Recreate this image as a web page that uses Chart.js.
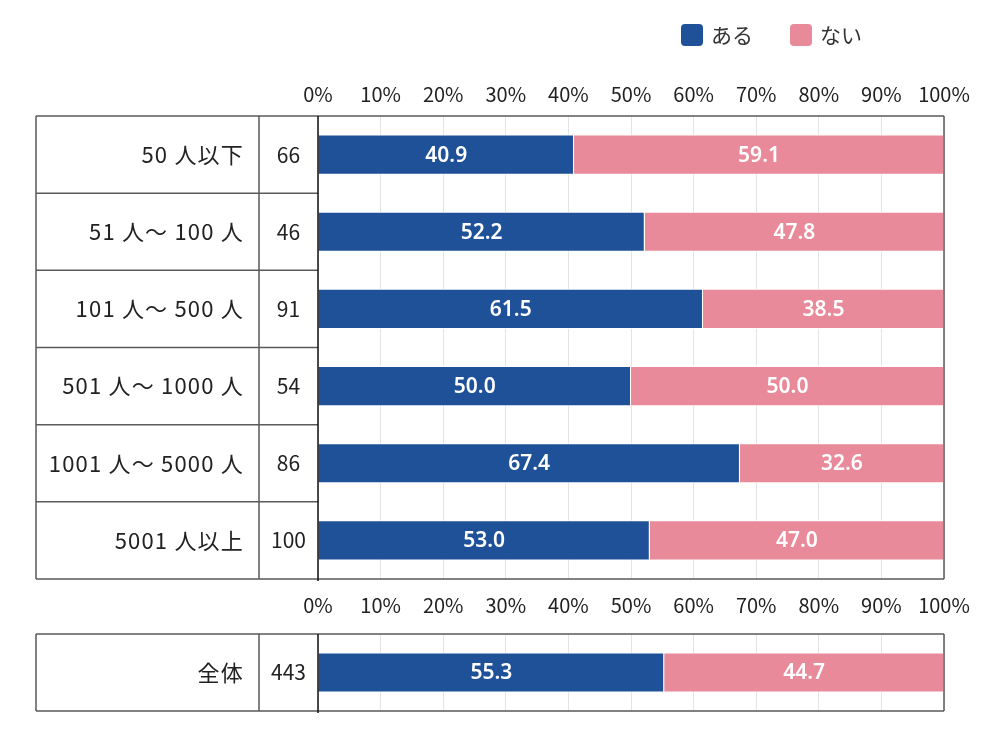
<!DOCTYPE html>
<html lang="ja">
<head>
<meta charset="utf-8">
<title>ある / ない</title>
<script src="https://cdn.jsdelivr.net/npm/chart.js@4.4.1/dist/chart.umd.min.js"></script>
<style>
  html, body { margin: 0; padding: 0; background: #fff; }
  #wrap { position: relative; width: 1000px; height: 744px; overflow: hidden; }
  canvas { position: absolute; left: 0; }
  #mainChart { top: 0; width: 1000px; height: 625px; }
  #totalChart { top: 600px; width: 1000px; height: 144px; }
</style>
</head>
<body>
<div id="wrap">
  <canvas id="mainChart" width="1000" height="625"></canvas>
  <canvas id="totalChart" width="1000" height="144"></canvas>
</div>
<script>
// --- data ---
const seriesNames = ['ある', 'ない'];
const categories = ['50 人以下', '51 人～ 100 人', '101 人～ 500 人', '501 人～ 1000 人', '1001 人～ 5000 人', '5001 人以上'];
const counts = [66, 46, 91, 54, 86, 100];
const aruValues = [40.9, 52.2, 61.5, 50.0, 67.4, 53.0];
const naiValues = [59.1, 47.8, 38.5, 50.0, 32.6, 47.0];

const totalCategories = ['全体'];
const totalCounts = [443];
const totalAru = [55.3];
const totalNai = [44.7];

const tickMin = 0, tickMax = 100, tickStep = 10;

// --- styles ---
const BLUE = '#1f5199';
const PINK = '#e98a9a';
const LINE = '#5a5a5a';
const GRID = '#e4e4e4';
const TEXT = '#222';
const JP = '"Noto Sans CJK JP", "Noto Sans", sans-serif';
const TABLE_LEFT = 36;
const TABLE_DIVIDER = 259;

Chart.defaults.font.family = JP;
Chart.defaults.color = TEXT;

// draws the label / n table on the left and the frame around the plot
function makeTablePlugin(labels, nums) {
    return {
        id: 'sideTable',
        afterDraw(chart) {
            const { ctx, chartArea } = chart;
            const rowH = chartArea.height / labels.length;
            ctx.save();
            ctx.strokeStyle = LINE;
            ctx.lineWidth = 1.5;
            ctx.beginPath();
            for (let i = 0; i <= labels.length; i++) {
                const yy = chartArea.top + i * rowH;
                const x2 = (i === 0 || i === labels.length) ? chartArea.right : chartArea.left;
                ctx.moveTo(TABLE_LEFT, yy);
                ctx.lineTo(x2, yy);
            }
            ctx.moveTo(TABLE_LEFT, chartArea.top);
            ctx.lineTo(TABLE_LEFT, chartArea.bottom);
            ctx.moveTo(TABLE_DIVIDER, chartArea.top);
            ctx.lineTo(TABLE_DIVIDER, chartArea.bottom);
            ctx.moveTo(chartArea.right, chartArea.top);
            ctx.lineTo(chartArea.right, chartArea.bottom);
            ctx.stroke();

            // 0% axis line
            ctx.strokeStyle = '#111';
            ctx.beginPath();
            ctx.moveTo(chartArea.left, chartArea.top);
            ctx.lineTo(chartArea.left, chartArea.bottom + 2);
            ctx.stroke();

            ctx.fillStyle = TEXT;
            ctx.textBaseline = 'middle';
            const yScale = chart.scales.y;
            labels.forEach((lab, i) => {
                const cy = yScale.getPixelForValue(i);
                ctx.font = '22px ' + JP;
                ctx.letterSpacing = '1.2px';
                ctx.textAlign = 'right';
                ctx.fillText(lab, TABLE_DIVIDER - 15, cy);
                ctx.font = '21px ' + JP;
                ctx.letterSpacing = '0px';
                ctx.textAlign = 'center';
                ctx.fillText(String(nums[i]), (TABLE_DIVIDER + chartArea.left) / 2, cy);
            });
            ctx.restore();
        }
    };
}

// value labels in the middle of each segment
const valueLabels = {
    id: 'valueLabels',
    afterDatasetsDraw(chart) {
        const { ctx } = chart;
        ctx.save();
        ctx.fillStyle = '#fff';
        ctx.font = '600 21px "Noto Sans", sans-serif';
        ctx.textAlign = 'center';
        ctx.textBaseline = 'middle';
        chart.data.datasets.forEach((ds, di) => {
            chart.getDatasetMeta(di).data.forEach((bar, i) => {
                const cx = (bar.x + bar.base) / 2;
                ctx.fillText(ds.data[i].toFixed(1), cx, bar.y + 1);
            });
        });
        ctx.restore();
    }
};

// legend in the top right
const topLegend = {
    id: 'topLegend',
    afterDraw(chart) {
        const { ctx } = chart;
        let x = 681;
        const cy = 35, box = 22;
        ctx.save();
        ctx.font = '21px ' + JP;
        ctx.textBaseline = 'middle';
        ctx.textAlign = 'left';
        chart.data.datasets.forEach(ds => {
            ctx.fillStyle = ds.backgroundColor;
            ctx.beginPath();
            if (ctx.roundRect) ctx.roundRect(x, cy - box / 2, box, box, 4);
            else ctx.rect(x, cy - box / 2, box, box);
            ctx.fill();
            ctx.fillStyle = '#333';
            ctx.fillText(ds.label, x + box + 8, cy);
            x += box + 8 + ctx.measureText(ds.label).width + 37;
        });
        ctx.restore();
    }
};

function pctTicks(padding) {
    return {
        stepSize: tickStep,
        padding: padding,
        font: { size: 20, family: JP },
        color: TEXT,
        callback: v => v + '%'
    };
}

function makeDatasets(aru, nai) {
    return [
        { label: seriesNames[0], data: aru, backgroundColor: BLUE, borderColor: '#fff', borderWidth: 1,
          categoryPercentage: 1, barPercentage: 0.52 },
        { label: seriesNames[1], data: nai, backgroundColor: PINK, borderColor: '#fff', borderWidth: 1,
          categoryPercentage: 1, barPercentage: 0.52 }
    ];
}

// --- main chart ---
new Chart(document.getElementById('mainChart'), {
    type: 'bar',
    data: { labels: categories, datasets: makeDatasets(aruValues, naiValues) },
    options: {
        indexAxis: 'y',
        responsive: false,
        animation: false,
        layout: { padding: { left: 318, right: 56, top: 0, bottom: 0 } },
        plugins: { legend: { display: false }, tooltip: { enabled: false } },
        scales: {
            x: {
                position: 'top', stacked: true, min: tickMin, max: tickMax,
                grid: { color: GRID, drawTicks: false },
                border: { display: false },
                ticks: pctTicks(10),
                afterFit: s => { s.height = 116; }
            },
            x2: {
                position: 'bottom', min: tickMin, max: tickMax,
                grid: { display: false, drawTicks: false },
                border: { display: false },
                ticks: pctTicks(14),
                afterFit: s => { s.height = 46; }
            },
            y: { stacked: true, display: false }
        }
    },
    plugins: [makeTablePlugin(categories, counts), valueLabels, topLegend]
});

// --- total chart ---
new Chart(document.getElementById('totalChart'), {
    type: 'bar',
    data: { labels: totalCategories, datasets: makeDatasets(totalAru, totalNai) },
    options: {
        indexAxis: 'y',
        responsive: false,
        animation: false,
        layout: { padding: { left: 318, right: 56, top: 34, bottom: 33 } },
        plugins: { legend: { display: false }, tooltip: { enabled: false } },
        scales: {
            x: {
                position: 'top', stacked: true, min: tickMin, max: tickMax,
                grid: { color: GRID, drawTicks: false },
                border: { display: false },
                ticks: { display: false, stepSize: tickStep },
                afterFit: s => { s.height = 0; }
            },
            y: { stacked: true, display: false }
        }
    },
    plugins: [makeTablePlugin(totalCategories, totalCounts), valueLabels]
});
</script>
</body>
</html>
